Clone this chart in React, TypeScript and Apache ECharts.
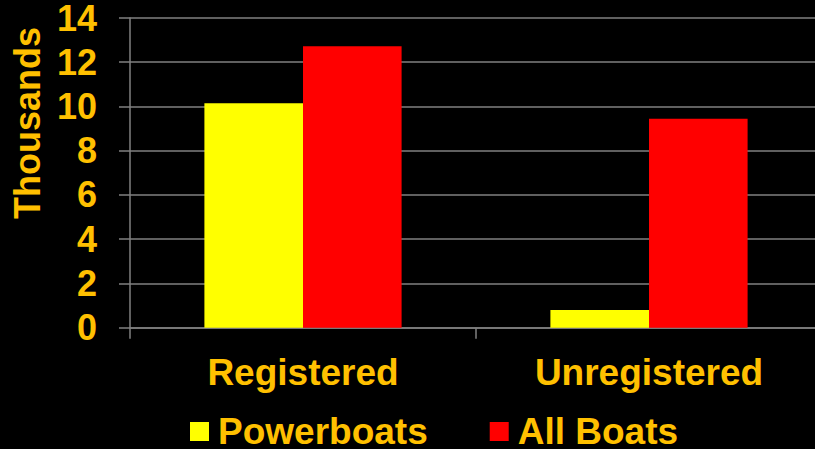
import React, { useEffect, useRef } from "react";
import * as echarts from "echarts";

const categories = ["Registered", "Unregistered"];
const powerboats = [10.15, 0.8];
const allBoats = [12.72, 9.44];
const seriesNames = ["Powerboats", "All Boats"];
const yTicks = { min: 0, max: 14, interval: 2 };
const axisTitle = "Thousands";

const GOLD = "#FFC000";
const FONT = "'Liberation Sans', Arial, sans-serif";

export default function App() {
  const ref = useRef<HTMLDivElement>(null);
  useEffect(() => {
    document.body.style.margin = "0";
    document.body.style.background = "#000";
    const chart = echarts.init(ref.current!, null, { renderer: "svg" });
    chart.setOption({
      animation: false,
      backgroundColor: "#000",
      textStyle: { fontFamily: FONT },
      grid: { left: 130, top: 15.3, bottom: 121.3, right: 0, containLabel: false },
      legend: {
        left: 190,
        top: 413,
        padding: 0,
        itemWidth: 19,
        itemHeight: 19,
        itemGap: 62,
        icon: "rect",
        textStyle: {
          color: GOLD,
          fontSize: 37,
          fontWeight: "bold",
          fontFamily: FONT,
          lineHeight: 37,
          padding: [0, 0, 0, 4],
        },
        data: seriesNames,
      },
      xAxis: {
        type: "category",
        data: categories,
        axisLine: { lineStyle: { color: "#808080", width: 1.5 } },
        axisTick: { show: true, length: 11, lineStyle: { color: "#808080", width: 1.5 } },
        axisLabel: {
          color: GOLD,
          fontSize: 37,
          fontWeight: "bold",
          fontFamily: FONT,
          margin: 26,
          lineHeight: 37,
        },
      },
      yAxis: {
        type: "value",
        min: yTicks.min,
        max: yTicks.max,
        interval: yTicks.interval,
        axisLine: { show: true, lineStyle: { color: "#808080", width: 1.5 } },
        axisTick: { show: true, length: 11, lineStyle: { color: "#808080", width: 1.5 } },
        splitLine: { show: true, lineStyle: { color: "#808080", width: 1.5 } },
        axisLabel: {
          color: GOLD,
          fontSize: 36,
          fontWeight: "bold",
          fontFamily: FONT,
          margin: 33,
        },
      },
      graphic: [
        {
          type: "text",
          x: 27,
          y: 123,
          rotation: Math.PI / 2,
          style: {
            text: axisTitle,
            fill: GOLD,
            font: `bold 36px ${FONT}`,
            textAlign: "center",
            textVerticalAlign: "middle",
          },
        },
      ],
      series: [
        {
          name: seriesNames[0],
          type: "bar",
          data: powerboats,
          barWidth: 98.6,
          barGap: "0%",
          itemStyle: { color: "#FFFF00" },
        },
        {
          name: seriesNames[1],
          type: "bar",
          data: allBoats,
          barWidth: 98.6,
          barGap: "0%",
          itemStyle: { color: "#FF0000" },
        },
      ],
    });
    return () => chart.dispose();
  }, []);
  return (
    <div
      style={{ position: "absolute", left: 0, top: 0, width: 815, height: 449, overflow: "hidden", background: "#000" }}
    >
      <div ref={ref} style={{ width: 822, height: 449 }} />
    </div>
  );
}
